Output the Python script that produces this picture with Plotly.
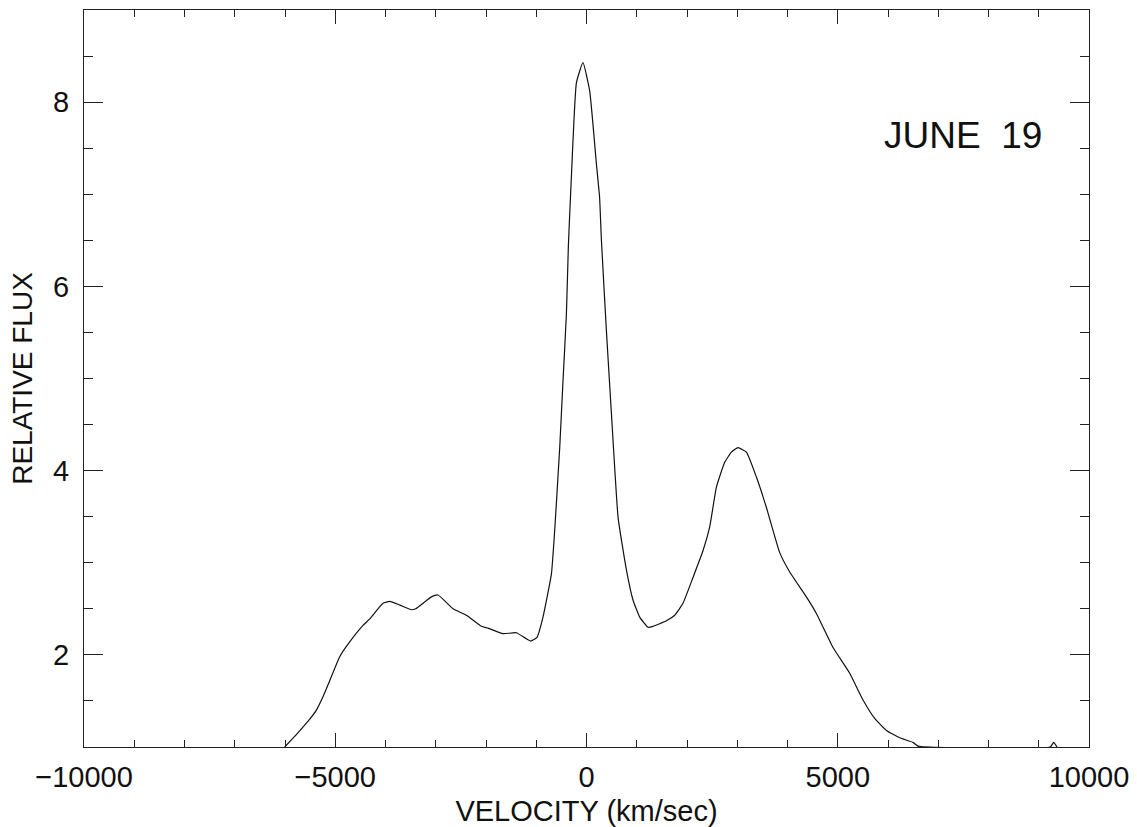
import plotly.graph_objects as go

velocity = [-6006, -5850, -5700, -5540, -5375, -5240, -5110, -4911, -4713, -4448, -4315, -4050, -3916,
            -3716, -3485, -3400, -3087, -2955, -2657, -2390, -2092, -1960, -1662,
            -1395, -1111, -985, -866, -698, -633, -533, -467, -400, -360,
            -300, -201, -70, 64, 197, 260, 297, 396, 496, 629,
            795, 928, 1059, 1224, 1324, 1590, 1755, 1920, 2119, 2318,
            2452, 2585, 2750, 2884, 3015, 3182, 3381, 3580, 3845, 4044,
            4376, 4575, 4906, 5238, 5503, 5735, 5968, 6233, 6498, 6597,
            9230, 9297, 9363]
flux = [1.00, 1.09, 1.18, 1.28, 1.40, 1.55, 1.72, 1.98, 2.14, 2.32, 2.39, 2.56, 2.58,
        2.54, 2.49, 2.50, 2.63, 2.65, 2.50, 2.43, 2.31, 2.29, 2.23,
        2.24, 2.15, 2.19, 2.41, 2.88, 3.35, 4.25, 4.98, 5.70, 6.45,
        7.20, 8.21, 8.43, 8.12, 7.33, 6.97, 6.50, 5.52, 4.62, 3.49,
        2.92, 2.59, 2.41, 2.30, 2.31, 2.37, 2.43, 2.56, 2.84, 3.13,
        3.39, 3.82, 4.09, 4.20, 4.25, 4.20, 3.93, 3.60, 3.11, 2.90,
        2.63, 2.45, 2.08, 1.80, 1.51, 1.31, 1.18, 1.10, 1.05, 1.01,
        1.00, 1.05, 1.00]

x_ticks = [-10000, -5000, 0, 5000, 10000]
x_tick_text = ["\u221210000", "\u22125000", "0", "5000", "10000"]
y_ticks = [2, 4, 6, 8]
y_tick_text = ["2", "4", "6", "8"]
label_text = "JUNE\u00a0\u00a019"

FONT = "Liberation Sans, Arial, sans-serif"
INK = "#111111"

fig = go.Figure()
fig.add_trace(go.Scatter(x=velocity, y=flux, mode="lines",
                         line=dict(color=INK, width=1.2, shape="spline", smoothing=0.4),
                         showlegend=False, hoverinfo="skip"))

axis_common = dict(
    showgrid=False, zeroline=False, showline=True, linecolor="#222222",
    linewidth=1, mirror="ticks", ticks="inside", tickcolor="#222222",
    tickwidth=1, tickfont=dict(family=FONT, size=29, color=INK),
    automargin=False,
)

fig.update_xaxes(
    range=[-10000, 10000], tickvals=x_ticks, ticktext=x_tick_text, ticklen=14,
    minor=dict(dtick=1000, tick0=0, ticks="inside", ticklen=7,
               tickcolor="#222222", tickwidth=1),
    title=dict(text="VELOCITY (km/sec)", font=dict(family=FONT, size=29, color=INK),
               standoff=8),
    ticklabelstandoff=4,
    **axis_common,
)
fig.update_yaxes(
    range=[1, 9], tickvals=y_ticks, ticktext=y_tick_text, ticklen=19,
    minor=dict(dtick=0.5, tick0=0, ticks="inside", ticklen=9,
               tickcolor="#222222", tickwidth=1),
    title=dict(text="RELATIVE FLUX", font=dict(family=FONT, size=28, color=INK),
               standoff=12),
    ticklabelstandoff=8,
    **axis_common,
)

fig.add_annotation(x=0.955, y=0.83, xref="paper", yref="paper", xanchor="right",
                   yanchor="middle", text=label_text, showarrow=False,
                   font=dict(family=FONT, size=37, color=INK))

fig.update_layout(
    width=1137, height=827, autosize=False,
    margin=dict(l=84, r=48, t=10, b=80),
    plot_bgcolor="white", paper_bgcolor="white",
)

fig.write_html("out.html")
